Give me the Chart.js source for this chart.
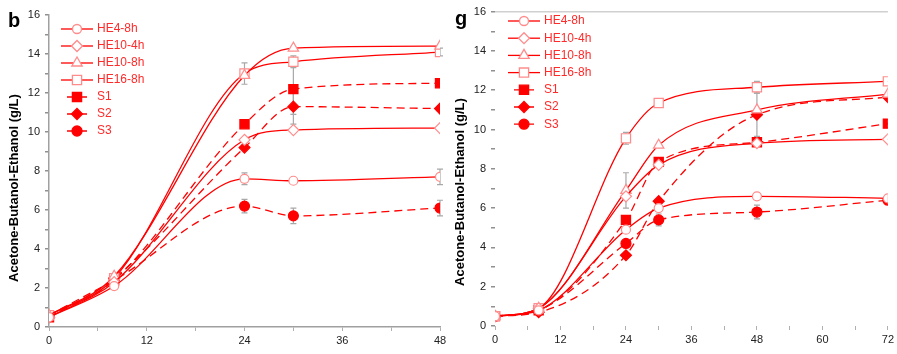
<!DOCTYPE html>
<html>
<head>
<meta charset="utf-8">
<script src="https://cdn.jsdelivr.net/npm/chart.js@4.4.1/dist/chart.umd.min.js"></script>
<style>
  body { margin: 0; background: #fff; width: 897px; height: 354px; position: relative; overflow: hidden; }
  #leftChart { position: absolute; left: 0; top: 0; }
  #rightChart { position: absolute; left: 450px; top: 0; }
</style>
</head>
<body>
<canvas id="leftChart" width="450" height="354"></canvas>
<canvas id="rightChart" width="447" height="354"></canvas>
<script>
// series names (same for both panels)
const seriesNames = ['HE4-8h', 'HE10-4h', 'HE10-8h', 'HE16-8h', 'S1', 'S2', 'S3'];

// panel b - fermentation time (h) and ABE (g/L)
const timeB = [0, 8, 24, 30, 48];
const he4_8hB  = [0.5, 2.1, 7.6, 7.5, 7.7];
const he10_4hB = [0.5, 2.3, 9.6, 10.1, 10.2];
const he10_8hB = [0.6, 2.6, 12.9, 14.3, 14.4];
const he16_8hB = [0.6, 2.5, 13.0, 13.6, 14.1];
const s1B = [0.5, 2.4, 10.4, 12.2, 12.5];
const s2B = [0.5, 2.5, 9.2, 11.3, 11.2];
const s3B = [0.6, 2.4, 6.2, 5.7, 6.1];
// error bars panel b
const errHe4B  = [0, 0, 0.3, 0, 0.4];
const errHe16B = [0, 0, 0.55, 0.3, 0.2];
const errS1B = [0, 0, 0, 1.3, 0];
const errS2B = [0, 0, 0, 0.9, 0];
const errS3B = [0, 0, 0.35, 0.4, 0.4];

// panel g
const timeG = [0, 8, 24, 30, 48, 72];
const he4_8hG  = [0.5, 0.8, 4.9, 6.0, 6.6, 6.5];
const he10_4hG = [0.5, 0.9, 6.6, 8.2, 9.3, 9.5];
const he10_8hG = [0.5, 0.9, 6.9, 9.2, 11.0, 11.8];
const he16_8hG = [0.5, 0.9, 9.55, 11.35, 12.15, 12.45];
const s1G = [0.5, 0.8, 5.4, 8.35, 9.35, 10.3];
const s2G = [0.5, 0.7, 3.6, 6.35, 10.75, 11.65];
const s3G = [0.5, 0.8, 4.2, 5.4, 5.8, 6.4];
// error bars panel g
const errHe10_8G = [0, 0, 0.9, 0, 0, 0];
const errHe16G = [0, 0, 0.3, 0, 0.3, 0];
const errS2G = [0, 0, 0, 0, 1.1, 0];
const errS3G = [0, 0, 0, 0.3, 0.35, 0];

// marker style per series
const markerStyles = ['circle', 'rectRot', 'triangle', 'rect', 'rect', 'rectRot', 'circle'];
const markerSizes = [4.5, 5.5, 6, 6.5, 6.5, 5.5, 5];
const RED = '#ff0000';
const PINK = '#ff8c8c';

function makeDatasets(times, seriesList, errList) {
    return seriesList.map((vals, i) => {
        const filled = i >= 4;
        return {
            label: seriesNames[i],
            data: vals.map((v, j) => ({ x: times[j], y: v })),
            errors: errList[i],
            borderColor: RED,
            borderWidth: 1.3,
            borderDash: filled ? [8, 5] : [],
            cubicInterpolationMode: 'monotone',
            pointStyle: markerStyles[i],
            pointRadius: markerSizes[i],
            pointBorderWidth: 1.2,
            pointBorderColor: filled ? RED : PINK,
            pointBackgroundColor: filled ? RED : '#ffffff',
            fill: false
        };
    });
}

// grey error bars drawn under the lines
const errorBars = {
    id: 'errorBars',
    beforeDatasetsDraw(chart) {
        const ctx = chart.ctx, ys = chart.scales.y;
        ctx.save();
        ctx.strokeStyle = '#a8a8a8';
        ctx.lineWidth = 1.2;
        chart.data.datasets.forEach((ds, i) => {
            const meta = chart.getDatasetMeta(i);
            (ds.errors || []).forEach((e, j) => {
                if (!e) return;
                const px = meta.data[j].x;
                const top = ys.getPixelForValue(ds.data[j].y + e);
                const bot = ys.getPixelForValue(ds.data[j].y - e);
                ctx.beginPath();
                ctx.moveTo(px, top); ctx.lineTo(px, bot);
                ctx.moveTo(px - 3, top); ctx.lineTo(px + 3, top);
                ctx.moveTo(px - 3, bot); ctx.lineTo(px + 3, bot);
                ctx.stroke();
            });
        });
        ctx.restore();
    }
};

// panel letter, y title and the in-plot legend
const decor = {
    id: 'decor',
    afterDraw(chart, args, o) {
        const ctx = chart.ctx;
        ctx.save();
        ctx.fillStyle = '#000';
        ctx.font = 'bold 20px "Liberation Sans", Arial, sans-serif';
        ctx.textBaseline = 'alphabetic';
        ctx.fillText(o.letter, o.letterX, o.letterY);

        ctx.translate(o.titleX, o.titleY);
        ctx.rotate(-Math.PI / 2);
        ctx.font = 'bold 13px "Liberation Sans", Arial, sans-serif';
        ctx.textAlign = 'center';
        ctx.textBaseline = 'middle';
        ctx.fillText('Acetone-Butanol-Ethanol (g/L)', 0, 0);
        ctx.restore();

        ctx.save();
        ctx.font = '12px "Liberation Sans", Arial, sans-serif';
        ctx.textBaseline = 'middle';
        chart.data.datasets.forEach((ds, i) => {
            const y = o.legendY + i * o.legendGap;
            const x0 = o.legendX;
            ctx.strokeStyle = RED;
            ctx.lineWidth = 1.3;
            ctx.setLineDash(ds.borderDash);
            ctx.beginPath();
            if (ds.borderDash.length) {
                ctx.moveTo(x0 + 6, y); ctx.lineTo(x0 + 26, y);
            } else {
                ctx.moveTo(x0, y); ctx.lineTo(x0 + 32, y);
            }
            ctx.stroke();
            ctx.setLineDash([]);
            ctx.fillStyle = ds.pointBackgroundColor;
            ctx.strokeStyle = ds.pointBorderColor;
            Chart.helpers.drawPoint(ctx, {
                pointStyle: ds.pointStyle, radius: ds.pointRadius, rotation: 0, borderWidth: 1.2
            }, x0 + 16, y);
            ctx.fillStyle = '#ff2a2a';
            ctx.fillText(ds.label, x0 + 36, y);
        });
        ctx.restore();
    }
};

function makeChart(canvasId, times, seriesList, errList, cfg) {
    const ctx = document.getElementById(canvasId).getContext('2d');
    return new Chart(ctx, {
        type: 'line',
        data: { datasets: makeDatasets(times, seriesList, errList) },
        plugins: [errorBars, decor],
        options: {
            responsive: false,
            animation: false,
            layout: { padding: cfg.padding },
            plugins: {
                legend: { display: false },
                tooltip: { enabled: false },
                decor: cfg.decor
            },
            scales: {
                x: {
                    type: 'linear',
                    min: 0,
                    max: cfg.xMax,
                    border: { display: cfg.showBorder, color: '#a0a0a0', width: 1.5 },
                    grid: { drawOnChartArea: false, tickLength: 4, tickColor: '#b0b0b0' },
                    ticks: {
                        stepSize: 6,
                        padding: 3,
                        color: '#222',
                        font: { size: 11, family: '"Liberation Sans", Arial, sans-serif' },
                        callback: v => (v % 12 === 0 ? v : '')
                    },
                    afterFit: s => { s.height = 354 - cfg.bottom - cfg.padding.bottom; }
                },
                y: {
                    min: 0,
                    max: 16,
                    border: { display: cfg.showBorder, color: '#a0a0a0', width: 1.5 },
                    grid: {
                        drawOnChartArea: !cfg.showBorder,
                        color: c => (c.tick.value === 16 ? '#d0d0d0' : 'rgba(0,0,0,0)'),
                        lineWidth: 1.5,
                        tickLength: 4,
                        tickColor: '#909090'
                    },
                    ticks: {
                        stepSize: 1,
                        padding: 5,
                        color: '#222',
                        font: { size: 11, family: '"Liberation Sans", Arial, sans-serif' },
                        callback: v => (v % 2 === 0 ? v : '')
                    },
                    afterFit: s => { s.width = cfg.yWidth; }
                }
            }
        }
    });
}

// Panel b
makeChart('leftChart', timeB,
    [he4_8hB, he10_4hB, he10_8hB, he16_8hB, s1B, s2B, s3B],
    [errHe4B, null, null, errHe16B, errS1B, errS2B, errS3B],
    {
        xMax: 48, showBorder: true, yWidth: 49, bottom: 327,
        padding: { top: 15, right: 10, bottom: 0, left: 0 },
        decor: { letter: 'b', letterX: 8, letterY: 27, titleX: 14, titleY: 188,
                 legendX: 61, legendY: 29, legendGap: 17 }
    });

// Panel g
makeChart('rightChart', timeG,
    [he4_8hG, he10_4hG, he10_8hG, he16_8hG, s1G, s2G, s3G],
    [null, null, errHe10_8G, errHe16G, null, errS2G, errS3G],
    {
        xMax: 72, showBorder: false, yWidth: 45, bottom: 326,
        padding: { top: 6, right: 6, bottom: 0, left: 0 },
        decor: { letter: 'g', letterX: 5, letterY: 25, titleX: 10, titleY: 192,
                 legendX: 58, legendY: 21, legendGap: 17.2 }
    });
</script>
</body>
</html>
